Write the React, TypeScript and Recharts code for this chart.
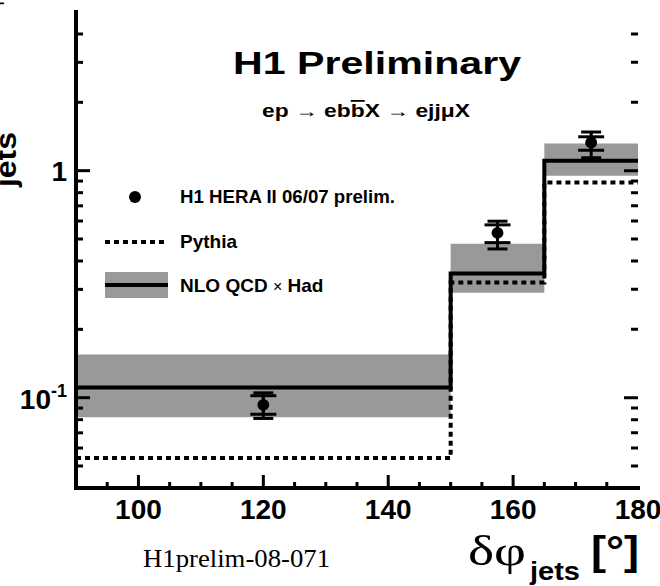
import React from "react";
import {
  ComposedChart, Line, Area, Scatter, ErrorBar,
  XAxis, YAxis, ZAxis, Legend,
} from "recharts";

// bin edges in degrees (last edge repeated so the step reaches 180)
const binEdges = [90, 150, 165, 180];
const nloValues = [0.111, 0.352, 1.106];
const nloLow = [0.082, 0.29, 0.95];
const nloHigh = [0.155, 0.477, 1.316];
const pythiaValues = [0.0542, 0.322, 0.887];

// data points (bin centres)
const dataX = [120, 157.5, 172.5];
const dataY = [0.093, 0.532, 1.33];
const statErr = [[0.0085, 0.009], [0.05, 0.045], [0.1, 0.08]];
const totErr = [[0.012, 0.012], [0.08, 0.067], [0.19, 0.15]];

const xMajorTicks = [100, 120, 140, 160, 180];
const xMinorTicks = [95, 105, 110, 115, 125, 130, 135, 145, 150, 155, 165, 170, 175];
const yMajorTicks = [0.1, 1];
const yMinorTicks = [0.05, 0.06, 0.07, 0.08, 0.09, 0.2, 0.3, 0.4, 0.5, 0.6, 0.7, 0.8, 0.9, 2, 3, 4];

const X_MIN = 90;
const X_MAX = 180;
const Y_MIN = 0.04;
const Y_MAX = 5;

// inward tick lengths in degrees, used for the right-hand ticks
const Y_TICK_MINOR = 1.12;
const Y_TICK_MAJOR = 2.24;

// chart box (must match the ComposedChart margins / axis sizes below)
const W = 660;
const H = 586;
const M = { top: 12, right: 22, bottom: 58, left: 0 };
const Y_AXIS_W = 76;
const X_AXIS_H = 40;
const PLOT = {
  left: M.left + Y_AXIS_W,
  right: W - M.right,
  top: M.top,
  bottom: H - M.bottom - X_AXIS_H,
};

const BAND = "#999999";
const SANS = "'Liberation Sans', Arial, Helvetica, sans-serif";
const SERIF = "'Liberation Serif', 'Times New Roman', serif";
const FRAME = { stroke: "#000", strokeWidth: 4, strokeLinecap: "square" as const };

// step data: one point per edge, last bin value repeated at 180
const stepValue = (arr: number[], i: number) => arr[Math.min(i, arr.length - 1)];
const nloStep = binEdges.map((x, i) => ({ x, v: stepValue(nloValues, i) }));
const bandStep = binEdges.map((x, i) => ({ x, band: [stepValue(nloLow, i), stepValue(nloHigh, i)] }));
const pythiaStep = binEdges.map((x, i) => ({ x, v: stepValue(pythiaValues, i) }));
const points = dataX.map((x, i) => ({ x, y: dataY[i], stat: statErr[i], tot: totErr[i] }));

const isMajorY = (v: number) => yMajorTicks.includes(v);
const yTickAll = [...yMinorTicks, ...yMajorTicks];

// right-hand ticks as a broken line (pairs separated by a null point)
type P = { x: number; t: number | null };
const rightTicks: P[] = yTickAll.flatMap((y) => [
  { x: X_MAX - (isMajorY(y) ? Y_TICK_MAJOR : Y_TICK_MINOR), t: y },
  { x: X_MAX, t: y },
  { x: X_MAX, t: null },
]);

// axis geometry for the left/bottom frame ticks
const xPx = (v: number) => PLOT.left + ((v - X_MIN) / (X_MAX - X_MIN)) * (PLOT.right - PLOT.left);
const yPx = (v: number) =>
  PLOT.top +
  ((Math.log10(Y_MAX) - Math.log10(v)) / (Math.log10(Y_MAX) - Math.log10(Y_MIN))) * (PLOT.bottom - PLOT.top);

function FrameTicks() {
  return (
    <g stroke="#000" strokeWidth={3}>
      {yTickAll.map((v) => (
        <line key={`l${v}`} x1={PLOT.left} x2={PLOT.left + (isMajorY(v) ? 14 : 7)} y1={yPx(v)} y2={yPx(v)} />
      ))}
      {xMinorTicks.map((v) => (
        <line key={`b${v}`} x1={xPx(v)} x2={xPx(v)} y1={PLOT.bottom} y2={PLOT.bottom - 6} />
      ))}
      {xMajorTicks.filter((v) => v < X_MAX).map((v) => (
        <line key={`B${v}`} x1={xPx(v)} x2={xPx(v)} y1={PLOT.bottom} y2={PLOT.bottom - 13} />
      ))}
    </g>
  );
}

function XLabel(props: any) {
  const { x, y, payload } = props;
  return (
    <text x={x} y={y + 31} textAnchor="middle" fontFamily={SANS} fontWeight="bold" fontSize={28} fill="#000">
      {payload.value}
    </text>
  );
}

function YLabel(props: any) {
  const { x, y, payload } = props;
  const lx = x - 9;
  if (payload.value === 1) {
    return (
      <text x={lx} y={y + 10} textAnchor="end" fontFamily={SANS} fontWeight="bold" fontSize={28} fill="#000">1</text>
    );
  }
  return (
    <text x={lx} y={y + 11} textAnchor="end" fontFamily={SANS} fontWeight="bold" fontSize={28} fill="#000">
      10<tspan dy={-12} fontSize={18}>-1</tspan>
    </text>
  );
}

function LegendBox() {
  const t = { fontFamily: SANS, fontWeight: "bold" as const, fontSize: 19, fill: "#000" };
  return (
    <svg width={330} height={140} style={{ display: "block" }}>
      <circle cx={35} cy={27} r={6} fill="#000" />
      <text x={80} y={33} {...t} textLength={215} lengthAdjust="spacingAndGlyphs">H1 HERA II 06/07 prelim.</text>
      <line x1={5} x2={68} y1={72} y2={72} stroke="#000" strokeWidth={4} strokeDasharray="5 4" />
      <text x={80} y={78} {...t}>Pythia</text>
      <rect x={5} y={102} width={63} height={26} fill={BAND} />
      <line x1={5} x2={68} y1={115} y2={115} stroke="#000" strokeWidth={4} />
      <text x={80} y={122} {...t}>
        NLO QCD <tspan fontWeight="normal" fontSize={16}>×</tspan> Had
      </text>
    </svg>
  );
}

export default function App() {
  return (
    <div style={{ position: "absolute", left: 0, top: 0, width: W, height: H, background: "#fff" }}>
      <ComposedChart width={W} height={H} margin={M}>
        <XAxis
          dataKey="x"
          type="number"
          domain={[X_MIN, X_MAX]}
          ticks={xMajorTicks}
          interval={0}
          allowDataOverflow
          height={X_AXIS_H}
          tickSize={0}
          tickMargin={0}
          tickLine={false}
          tick={<XLabel />}
          axisLine={FRAME}
        />
        <XAxis
          xAxisId="top"
          orientation="top"
          dataKey="x"
          type="number"
          domain={[X_MIN, X_MAX]}
          allowDataOverflow
          height={0}
          tick={false}
          tickLine={false}
          axisLine={FRAME}
        />
        <YAxis
          scale="log"
          type="number"
          domain={[Y_MIN, Y_MAX]}
          allowDataOverflow
          ticks={yMajorTicks}
          interval={0}
          width={Y_AXIS_W}
          tickSize={0}
          tickMargin={0}
          tickLine={false}
          tick={<YLabel />}
          axisLine={FRAME}
        />
        <YAxis
          yAxisId="right"
          orientation="right"
          scale="log"
          type="number"
          domain={[Y_MIN, Y_MAX]}
          allowDataOverflow
          width={0}
          tick={false}
          tickLine={false}
          axisLine={FRAME}
        />
        <ZAxis range={[110, 110]} />
        <Area
          data={bandStep}
          dataKey="band"
          type="stepAfter"
          fill={BAND}
          fillOpacity={1}
          stroke="none"
          isAnimationActive={false}
        />
        <Line
          data={pythiaStep}
          dataKey="v"
          type="stepAfter"
          stroke="#000"
          strokeWidth={4}
          strokeDasharray="5 4"
          dot={false}
          activeDot={false}
          isAnimationActive={false}
        />
        <Line
          data={nloStep}
          dataKey="v"
          type="stepAfter"
          stroke="#000"
          strokeWidth={4}
          dot={false}
          activeDot={false}
          isAnimationActive={false}
        />
        <Line
          data={rightTicks}
          dataKey="t"
          type="linear"
          stroke="#000"
          strokeWidth={3}
          connectNulls={false}
          dot={false}
          activeDot={false}
          legendType="none"
          isAnimationActive={false}
        />
        <Scatter data={points} dataKey="y" fill="#000" shape="circle" isAnimationActive={false}>
          <ErrorBar dataKey="tot" direction="y" width={10} strokeWidth={3} stroke="#000" />
          <ErrorBar dataKey="stat" direction="y" width={13} strokeWidth={3} stroke="#000" />
        </Scatter>
        <Legend
          layout="horizontal"
          verticalAlign="middle"
          align="center"
          content={<LegendBox />}
          wrapperStyle={{ position: "absolute", left: 100, top: 170, width: 330, height: 140 }}
        />
      </ComposedChart>

      <svg
        width={W}
        height={H}
        style={{ position: "absolute", left: 0, top: 0, pointerEvents: "none" }}
      >
        <FrameTicks />
        <text x={233} y={74} fontFamily={SANS} fontWeight="bold" fontSize={32} textLength={288} lengthAdjust="spacingAndGlyphs">
          H1 Preliminary
        </text>
        <text x={262} y={117} fontFamily={SANS} fontWeight="bold" fontSize={18} textLength={208} lengthAdjust="spacingAndGlyphs">
          ep <tspan fontWeight="normal">→</tspan> eb<tspan style={{ textDecoration: "overline" }}>b</tspan>X <tspan fontWeight="normal">→</tspan> ejjμX
        </text>
        <text x={143} y={567} fontFamily={SERIF} fontSize={25} textLength={187} lengthAdjust="spacingAndGlyphs">
          H1prelim-08-071
        </text>
        <text x={468} y={565} fontFamily={SERIF} fontSize={42} textLength={58} lengthAdjust="spacingAndGlyphs">δφ</text>
        <text x={530} y={580} fontFamily={SANS} fontWeight="bold" fontSize={26} textLength={50} lengthAdjust="spacingAndGlyphs">jets</text>
        <text x={591} y={565} fontFamily={SANS} fontWeight="bold" fontSize={40} textLength={48} lengthAdjust="spacingAndGlyphs">[°]</text>
        <text x={16} y={187} transform="rotate(-90 16 187)" fontFamily={SANS} fontWeight="bold" fontSize={29} textLength={55} lengthAdjust="spacingAndGlyphs">
          jets
        </text>
        <text x={-4} y={96} transform="rotate(-90 -4 96)" textAnchor="start" fontFamily={SERIF} fontSize={36}>
          dσ/dδφ
        </text>
      </svg>
    </div>
  );
}
